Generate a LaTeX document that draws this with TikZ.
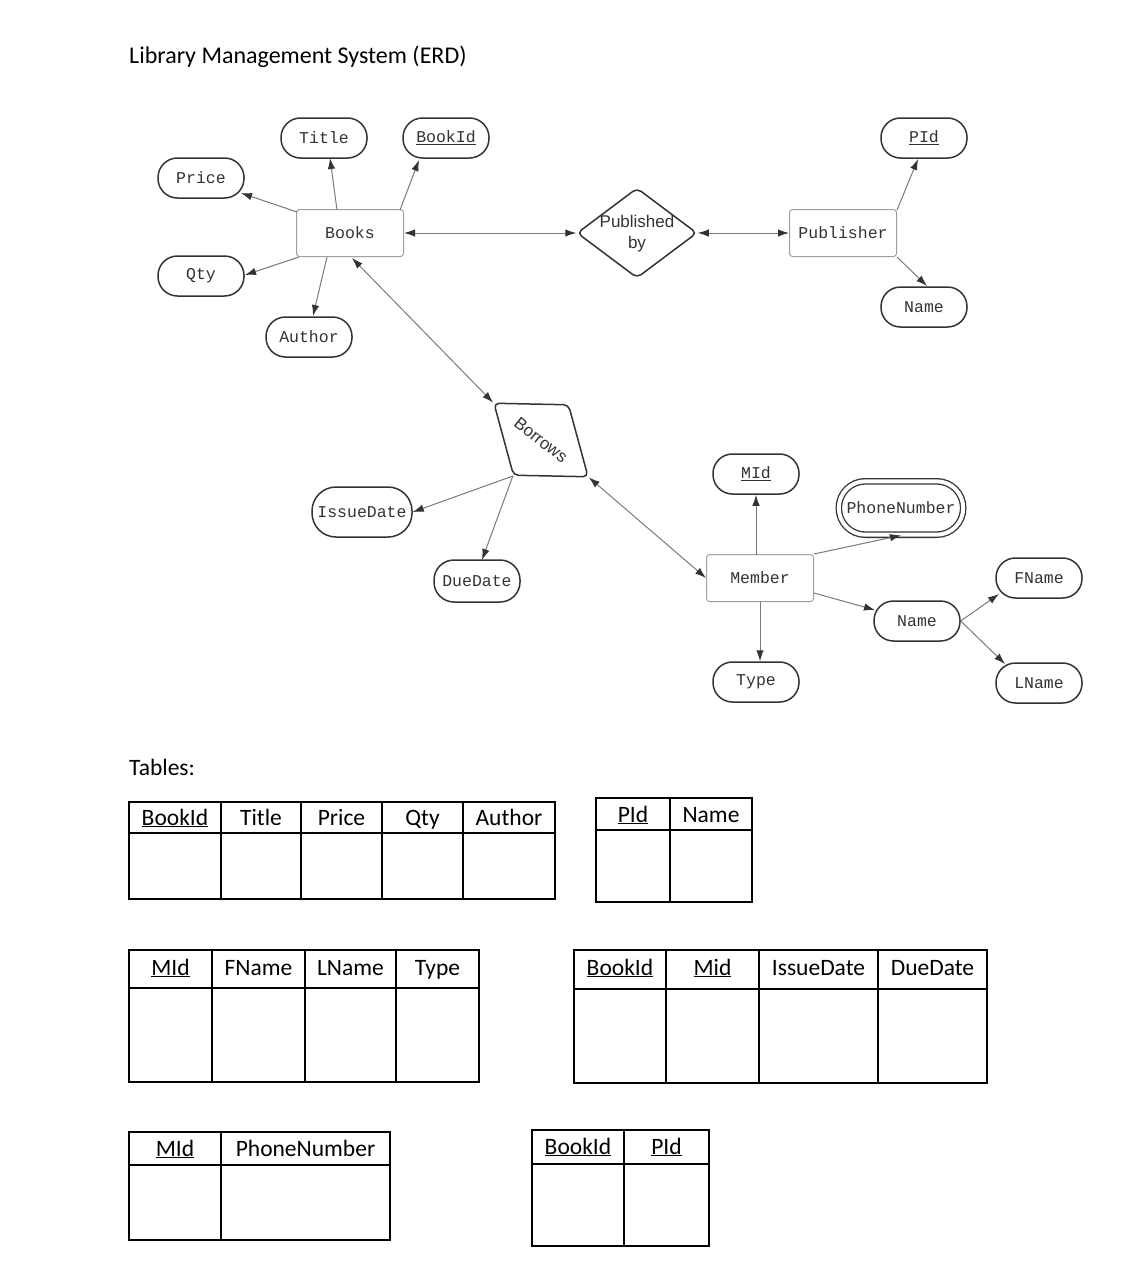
\documentclass[tikz,border=0pt]{standalone}
\usepackage{fontspec}
\setmainfont{Carlito}
\newfontfamily\ermono{Liberation Mono}
\newfontfamily\ersans{Liberation Sans}
\usetikzlibrary{arrows.meta,shapes.geometric,calc}

\definecolor{inkdark}{HTML}{333333}
\definecolor{linkgray}{HTML}{7A7A7A}
\definecolor{boxgray}{HTML}{A0A0A0}

\tikzset{
  monofont/.style={font=\ermono\fontsize{16.5}{20}\selectfont, text=inkdark},
  entity/.style={monofont, draw=boxgray, line width=1pt, rounded corners=3pt,
    minimum width=107pt, minimum height=47pt, inner sep=0pt},
  attr/.style={monofont, draw=inkdark, line width=1.5pt, rounded corners=19.5pt,
    minimum width=86pt, minimum height=40pt, inner sep=0pt},
  multiattr/.style={attr, double, double distance=4pt, line width=1.3pt,
    minimum width=124.4pt, minimum height=53.4pt, rounded corners=26.5pt},
  reldiamond/.style={diamond, draw=inkdark, line width=1.5pt, rounded corners=5pt,
    minimum width=120pt, minimum height=90pt, inner sep=0pt, text=inkdark,
    font=\ersans\fontsize{17}{21}\selectfont},
  link/.style={draw=linkgray, line width=1pt, -{Latex[length=11pt,width=7.5pt,color=inkdark]}},
  biglink/.style={draw=linkgray, line width=1pt,
    {Latex[length=11pt,width=7.5pt,color=inkdark]}-{Latex[length=11pt,width=7.5pt,color=inkdark]}},
  tbl/.style={draw=black, line width=1.6pt},
  tblhead/.style={anchor=base, font=\fontsize{23.5}{28}\selectfont},
}

\begin{document}
\begin{tikzpicture}[x=1pt, y=-1pt]
    \path[fill=white, use as bounding box] (0,0) rectangle (1121,1280);

    % Heading
    \node[anchor=base west, inner sep=0pt, font=\fontsize{24}{28}\selectfont] (heading) at (129,63) {Library Management System (ERD)};

    % Books and its attributes
    \node[entity] (books) at (350,233) {Books};
    \node[attr] (title) at (324,138) {Title};
    \node[attr] (bookid) at (446,138) {\underline{BookId}};
    \node[attr] (price) at (201,178) {Price};
    \node[attr] (qty) at (201,276) {Qty};
    \node[attr] (author) at (309,337) {Author};
    \draw[link] ($(books)+(-13,-23)$) -- ($(title)+(6,20)$);
    \draw[link] ($(books)+(50,-23)$) -- ($(bookid)+(-27,22)$);
    \draw[link] ($(books)+(-53,-21)$) -- ($(price)+(40,15)$);
    \draw[link] ($(books)+(-51,24)$) -- ($(qty)+(44,-1)$);
    \draw[link] ($(books)+(-23,24)$) -- ($(author)+(4,-21)$);

    % Published by
    \node[reldiamond] (pubby) at (637,233) {};
    \node[text=inkdark, align=center, font=\ersans\fontsize{17}{21}\selectfont] (pubbytext) at (637,234) {Published\\by};
    \draw[biglink] (books.east) -- (pubby.west);

    % Publisher and its attributes
    \node[entity] (publisher) at (843,233) {Publisher};
    \node[attr] (pid) at (924,138) {\underline{PId}};
    \node[attr] (pubname) at (924,307) {Name};
    \draw[biglink] (pubby.east) -- (publisher.west);
    \draw[link] ($(publisher)+(54,-23)$) -- ($(pid)+(-6,21)$);
    \draw[link] ($(publisher)+(54,24)$) -- ($(pubname)+(3,-21)$);

    % Borrows
    \node[reldiamond, rotate=-38] (borrows) at (541,440) {Borrows};
    \node[attr, minimum width=100pt, minimum height=50pt, rounded corners=24pt] (issuedate) at (362,512) {IssueDate};
    \node[attr, minimum height=42pt, rounded corners=20pt] (duedate) at (477,581) {DueDate};
    \draw[biglink] ($(books)+(2,25)$) -- (borrows.west);
    \draw[link] (borrows.south) -- (issuedate.east);
    \draw[link] (borrows.south) -- ($(duedate)+(5,-21)$);

    % Member and its attributes
    \node[entity] (member) at (760,578) {Member};
    \node[attr] (mid) at (756,474) {\underline{MId}};
    \node[multiattr] (phone) at (901,508) {PhoneNumber};
    \node[attr] (memname) at (917,621) {Name};
    \node[attr] (fname) at (1039,578) {FName};
    \node[attr] (lname) at (1039,683) {LName};
    \node[attr] (type) at (756,682) {Type};
    \draw[biglink] (borrows.east) -- (member.west);
    \draw[link] ($(member)+(-4,-23)$) -- (mid.south);
    \draw[link] (member.north east) -- (phone.south);
    \draw[link] ($(member)+(54,15)$) -- ($(memname)+(-42,-11)$);
    \draw[link] (member.south) -- (member.south |- type.north);
    \draw[link] (memname.east) -- ($(fname)+(-40,16)$);
    \draw[link] (memname.east) -- ($(lname)+(-34,-19)$);

    % Tables
    \node[anchor=base west, inner sep=0pt, font=\fontsize{23.5}{28}\selectfont] (tables) at (129,775) {Tables:};

    % Books table
    \draw[tbl] (129,802) rectangle (555,899);
    \draw[tbl] (129,833) -- (555,833);
    \foreach \x in {221,301,382,463} \draw[tbl] (\x,802) -- (\x,899);
    \node[tblhead] (tb-bookid) at (175,825) {\underline{BookId}};
    \node[tblhead] (tb-title) at (261,825) {Title};
    \node[tblhead] (tb-price) at (341.5,825) {Price};
    \node[tblhead] (tb-qty) at (422.5,825) {Qty};
    \node[tblhead] (tb-author) at (509,825) {Author};

    % Publisher table
    \draw[tbl] (596,798) rectangle (752,902);
    \draw[tbl] (596,830) -- (752,830);
    \draw[tbl] (670,798) -- (670,902);
    \node[tblhead] (tp-pid) at (633,822) {\underline{PId}};
    \node[tblhead] (tp-name) at (711,822) {Name};

    % Member table
    \draw[tbl] (129,950) rectangle (479,1082);
    \draw[tbl] (129,988) -- (479,988);
    \foreach \x in {212,305,396} \draw[tbl] (\x,950) -- (\x,1082);
    \node[tblhead] (tm-mid) at (170.5,975) {\underline{MId}};
    \node[tblhead] (tm-fname) at (258.5,975) {FName};
    \node[tblhead] (tm-lname) at (350.5,975) {LName};
    \node[tblhead] (tm-type) at (437.5,975) {Type};

    % Borrows table
    \draw[tbl] (574,950) rectangle (987,1083);
    \draw[tbl] (574,989) -- (987,989);
    \foreach \x in {666,759,878} \draw[tbl] (\x,950) -- (\x,1083);
    \node[tblhead] (tr-bookid) at (620,975) {\underline{BookId}};
    \node[tblhead] (tr-mid) at (712.5,975) {\underline{Mid}};
    \node[tblhead] (tr-issue) at (818.5,975) {IssueDate};
    \node[tblhead] (tr-due) at (932.5,975) {DueDate};

    % Phone table
    \draw[tbl] (129,1132) rectangle (390,1240);
    \draw[tbl] (129,1165) -- (390,1165);
    \draw[tbl] (221,1132) -- (221,1240);
    \node[tblhead] (tph-mid) at (175,1156) {\underline{MId}};
    \node[tblhead] (tph-phone) at (305.5,1156) {PhoneNumber};

    % Published by table
    \draw[tbl] (532,1130) rectangle (709,1246);
    \draw[tbl] (532,1164) -- (709,1164);
    \draw[tbl] (624,1130) -- (624,1246);
    \node[tblhead] (tpb-bookid) at (578,1154) {\underline{BookId}};
    \node[tblhead] (tpb-pid) at (666.5,1154) {\underline{PId}};
\end{tikzpicture}
\end{document}
